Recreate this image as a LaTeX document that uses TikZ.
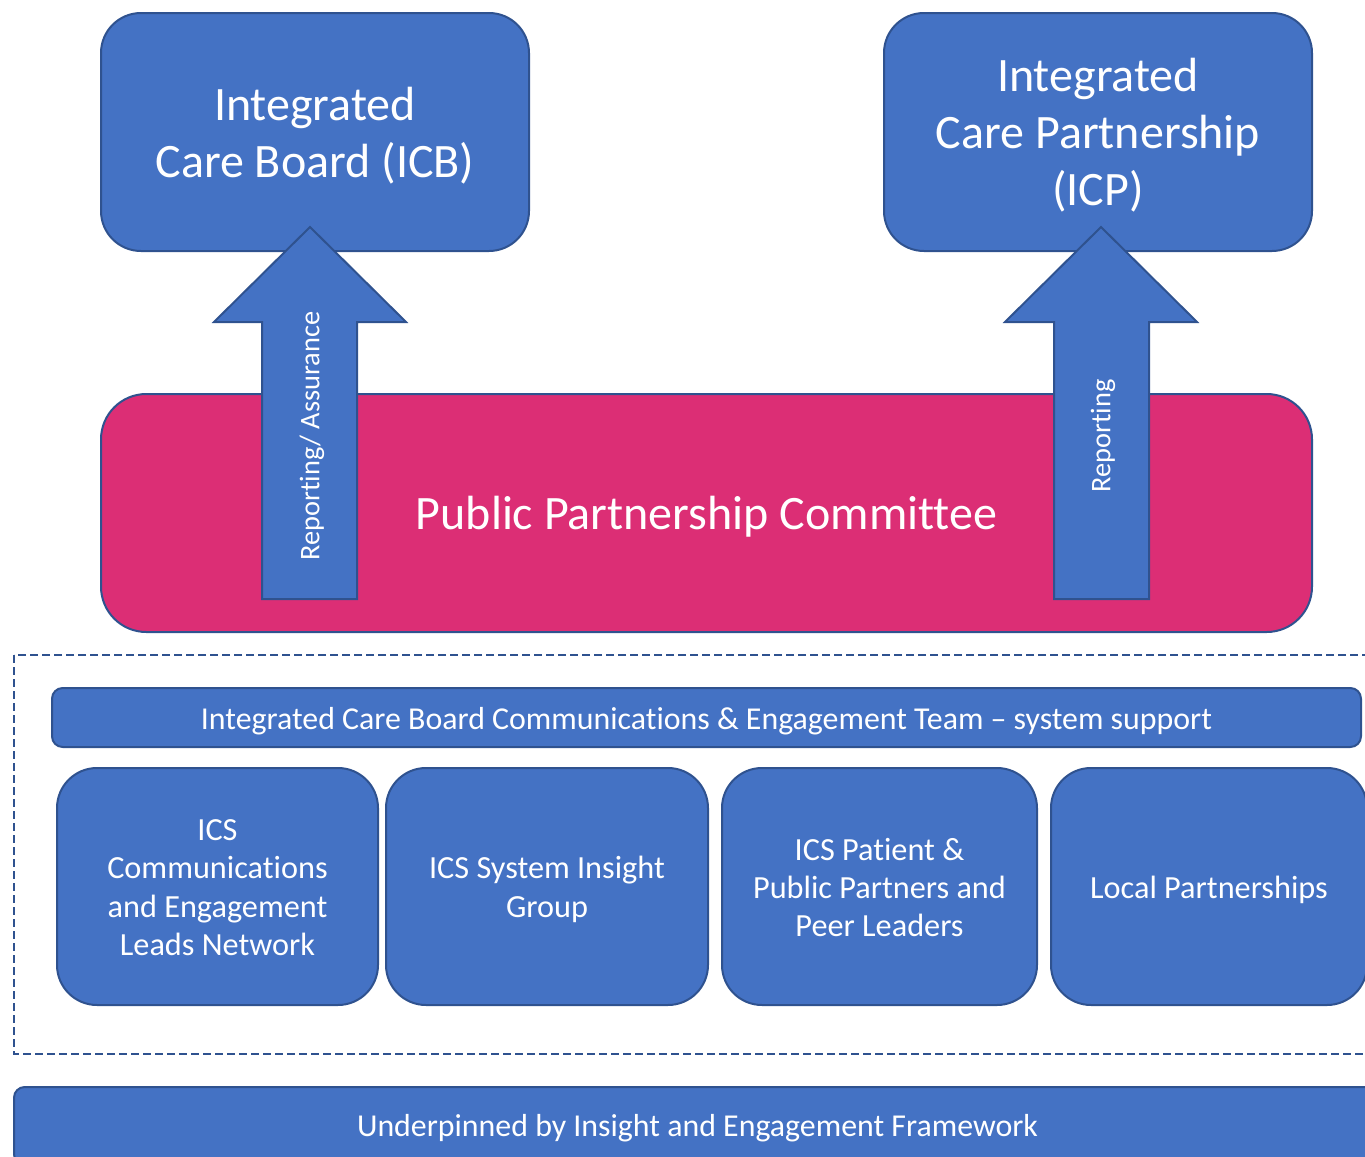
\documentclass[tikz,border=0pt]{standalone}
\usepackage{fontspec}
\setmainfont[Ligatures=NoCommon]{Carlito}
\usetikzlibrary{positioning}
\definecolor{boxblue}{HTML}{4472C4}
\definecolor{edgeblue}{HTML}{2F528F}
\definecolor{pinkfill}{HTML}{DC2E75}
\newcommand\droptext[2]{\raisebox{-#1}[\height][\depth]{\begin{tabular}{@{}c@{}}#2\end{tabular}}}
\tikzset{
  box/.style={draw=edgeblue, fill=boxblue, line width=1.5pt, text=white, align=center, inner sep=0pt},
  bigbox/.style={box, rounded corners=30pt, minimum width=321pt, minimum height=178.5pt,
     font=\fontsize{36}{42.75}\selectfont},
  smallbox/.style={box, rounded corners=30pt, minimum height=177.75pt,
     font=\fontsize{24.2}{28.8}\selectfont},
  barbox/.style={box, rounded corners=8pt, font=\fontsize{23.9}{28}\selectfont},
  blockarrow/.style={draw=edgeblue, fill=boxblue, line width=1.5pt},
  arrowlabel/.style={text=white, rotate=90, font=\fontsize{21.3}{25}\selectfont}
}
\begin{document}
\begin{tikzpicture}[x=0.75pt,y=-0.75pt]
\useasboundingbox (0,0) rectangle (1365,1157);
\clip (0,0) rectangle (1365,1157);
% top boxes
\node[bigbox] (icb) at (315,132) {\droptext{4.5pt}{Integrated\\Care Board (ICB)}};
\node[bigbox] (icp) at (1098,132) {\droptext{4pt}{Integrated\\Care Partnership\\(ICP)}};
% committee
\node[box, fill=pinkfill, rounded corners=34pt, minimum width=908.25pt, minimum height=178.5pt,
  font=\fontsize{36}{42}\selectfont] (ppc) at (706.5,513) {\droptext{4.3pt}{Public Partnership Committee}};
% block arrows
\draw[blockarrow] (262,599) -- (262,322) -- (214,322) -- (310,227) -- (406,322) -- (357,322) -- (357,599) -- cycle;
\draw[blockarrow] (1054,599) -- (1054,322) -- (1005,322) -- (1101,227) -- (1197,322) -- (1149,322) -- (1149,599) -- cycle;
\node[arrowlabel] (lal) at (312,436) {Reporting/ Assurance};
\node[arrowlabel] (ral) at (1103,436) {Reporting};
% dashed frame
\draw[edgeblue, line width=1.5pt, dash pattern=on 6pt off 3pt] (14,655) rectangle (1385,1054);
\node[barbox, minimum width=981.75pt, minimum height=44.25pt] (team) at (706.5,717.5)
  {\droptext{3.5pt}{Integrated Care Board Communications \& Engagement Team – system support}};
\node[smallbox, minimum width=240.75pt] (b1) at (217.5,886.5) {\droptext{3pt}{ICS\\Communications\\and Engagement\\Leads Network}};
\node[smallbox, minimum width=241.5pt] (b2) at (547,886.5) {\droptext{3pt}{ICS System Insight\\Group}};
\node[smallbox, minimum width=236.25pt] (b3) at (879.5,886.5) {\droptext{3.3pt}{ICS Patient \&\\Public Partners and\\Peer Leaders}};
\node[smallbox, minimum width=237pt] (b4) at (1209,886.5) {\droptext{3.5pt}{Local Partnerships}};
% bottom bar
\node[barbox, minimum width=1025.25pt, minimum height=58.5pt] (base) at (697.5,1126)
  {\droptext{2.2pt}{Underpinned by Insight and Engagement Framework}};
\end{tikzpicture}
\end{document}
